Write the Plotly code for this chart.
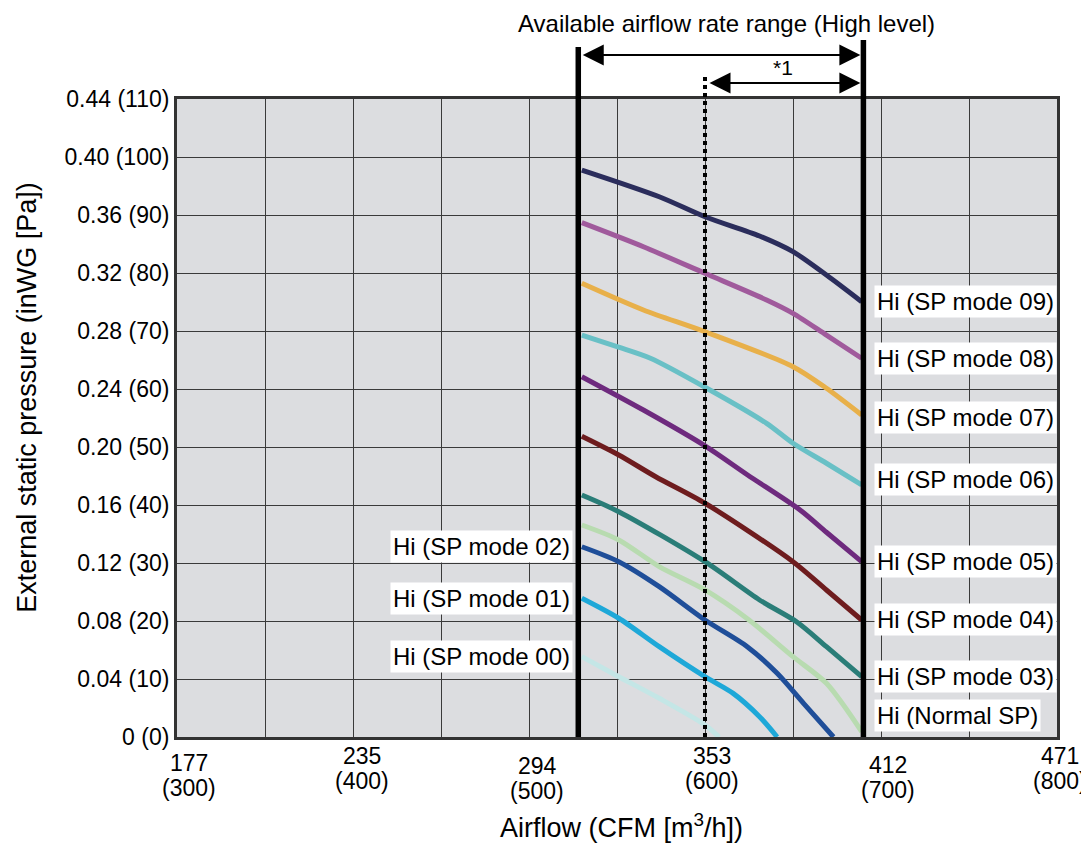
import plotly.graph_objects as go

# ---------------- data ----------------
# airflow in m3/h, pressure in inWG
mode09_x = [530, 574, 600, 631, 650, 669, 689]
mode09_y = [0.391, 0.3726, 0.3588, 0.3455, 0.3347, 0.3186, 0.3002]
mode08_x = [530, 565, 600, 635, 650, 669, 689]
mode08_y = [0.3547, 0.3381, 0.3198, 0.3014, 0.2922, 0.2772, 0.2612]
mode07_x = [530, 565, 600, 650, 669, 689]
mode07_y = [0.3129, 0.2945, 0.2795, 0.2554, 0.2405, 0.2221]
mode06_x = [530, 550, 569, 600, 635, 650, 669, 689]
mode06_y = [0.2772, 0.2692, 0.2612, 0.2412, 0.2163, 0.2026, 0.1888, 0.1738]
mode05_x = [530, 565, 600, 624, 654, 669, 689]
mode05_y = [0.2485, 0.2255, 0.2008, 0.1809, 0.1566, 0.1412, 0.1209]
mode04_x = [530, 551, 572, 600, 650, 669, 689]
mode04_y = [0.2074, 0.1945, 0.1795, 0.1612, 0.1209, 0.1014, 0.0807]
mode03_x = [530, 551, 600, 631, 652, 669, 689]
mode03_y = [0.1669, 0.1554, 0.1209, 0.0945, 0.0795, 0.0623, 0.0416]
normal_x = [530, 551, 574, 600, 625, 650, 669, 689]
normal_y = [0.1462, 0.1359, 0.1175, 0.1014, 0.0807, 0.0554, 0.037, 0.0037]
mode02_x = [530, 551, 574, 600, 624, 641, 656, 673]
mode02_y = [0.1312, 0.1209, 0.1037, 0.0807, 0.0623, 0.0439, 0.0232, 0.0]
mode01_x = [530, 551, 574, 600, 616, 631, 641]
mode01_y = [0.0957, 0.0819, 0.0623, 0.0416, 0.0301, 0.014, 0.0]
mode00_x = [530, 551, 574, 600, 608]
mode00_y = [0.0554, 0.0416, 0.0267, 0.0083, 0.0]

series_names = ["Hi (SP mode 09)", "Hi (SP mode 08)", "Hi (SP mode 07)", "Hi (SP mode 06)",
                "Hi (SP mode 05)", "Hi (SP mode 04)", "Hi (SP mode 03)", "Hi (Normal SP)",
                "Hi (SP mode 02)", "Hi (SP mode 01)", "Hi (SP mode 00)"]

# axis ticks
x_ticks_m3h = [300, 400, 500, 600, 700, 800]
x_ticks_cfm = ["177", "235", "294", "353", "412", "471"]
y_ticks_inwg = [0, 0.04, 0.08, 0.12, 0.16, 0.20, 0.24, 0.28, 0.32, 0.36, 0.40, 0.44]
y_ticks_pa = [0, 10, 20, 30, 40, 50, 60, 70, 80, 90, 100, 110]

# available airflow range (m3/h)
range_low = 528
range_high = 690
range_mid = 600

# ---------------- styles ----------------
FONT = "Liberation Sans, Arial, Helvetica, sans-serif"
colors = ["#2b2d5c", "#a05a9c", "#e8b04a", "#69c0c6", "#6e2a7e", "#6e1c1e",
          "#2a7d78", "#b8dbb0", "#1f4e99", "#1ea8d8", "#c4e6e6"]
series = [(mode09_x, mode09_y), (mode08_x, mode08_y), (mode07_x, mode07_y),
          (mode06_x, mode06_y), (mode05_x, mode05_y), (mode04_x, mode04_y),
          (mode03_x, mode03_y), (normal_x, normal_y), (mode02_x, mode02_y),
          (mode01_x, mode01_y), (mode00_x, mode00_y)]
label_side = ["r", "r", "r", "r", "r", "r", "r", "r", "l", "l", "l"]
label_yshift = [0, 0, -3, 5, 0, 0, 0, 16, 0, 0, 0]
x_lbl_xshift = [12, 9, 8, 7, 7, 3]
x_lbl_top = [26, 19, 29, 19, 28, 19]   # px below plot bottom, centre of first line
LINE_GAP = 25

fig = go.Figure()

for (xs, ys), c, n in zip(series, colors, series_names):
    fig.add_trace(go.Scatter(x=xs, y=ys, mode="lines", name=n,
                             line=dict(color=c, width=5, shape="spline", smoothing=0.8),
                             showlegend=False, hoverinfo="skip"))

annotations = []
# curve labels
for (xs, ys), n, side, ysh in zip(series, series_names, label_side, label_yshift):
    if side == "r":
        annotations.append(dict(x=range_high, y=ys[-1], xref="x", yref="y", text=n,
                                showarrow=False, xanchor="left", yanchor="middle",
                                xshift=11, yshift=ysh, bgcolor="white", borderpad=2,
                                font=dict(family=FONT, size=24, color="black")))
    else:
        annotations.append(dict(x=range_low, y=ys[0], xref="x", yref="y", text=n,
                                showarrow=False, xanchor="right", yanchor="middle",
                                xshift=-5, yshift=ysh, bgcolor="white", borderpad=2,
                                font=dict(family=FONT, size=24, color="black")))

# x tick labels (two lines, staggered)
for xv, cfm, xs_, top in zip(x_ticks_m3h, x_ticks_cfm, x_lbl_xshift, x_lbl_top):
    annotations.append(dict(x=xv, y=0, xref="x", yref="paper", text=cfm,
                            showarrow=False, xanchor="center", yanchor="middle",
                            xshift=xs_, yshift=-top,
                            font=dict(family=FONT, size=23, color="black")))
    annotations.append(dict(x=xv, y=0, xref="x", yref="paper", text=f"({xv})",
                            showarrow=False, xanchor="center", yanchor="middle",
                            xshift=xs_, yshift=-(top + LINE_GAP),
                            font=dict(family=FONT, size=23, color="black")))

# axis titles
annotations.append(dict(x=0.505, y=-0.1395, xref="paper", yref="paper",
                        text="Airflow (CFM [m<sup>3</sup>/h])", showarrow=False,
                        xanchor="center", yanchor="middle",
                        font=dict(family=FONT, size=27, color="black")))
annotations.append(dict(x=-0.1706, y=0.533, xref="paper", yref="paper",
                        text="External static pressure (inWG [Pa])", showarrow=False,
                        textangle=-90, xanchor="center", yanchor="middle",
                        font=dict(family=FONT, size=27, color="black")))
# top title
annotations.append(dict(x=0.624, y=1.1176, xref="paper", yref="paper",
                        text="Available airflow rate range (High level)", showarrow=False,
                        xanchor="center", yanchor="middle",
                        font=dict(family=FONT, size=24, color="black")))
annotations.append(dict(x=0.689, y=1.0486, xref="paper", yref="paper",
                        text="*1", showarrow=False, xanchor="center", yanchor="middle",
                        font=dict(family=FONT, size=21, color="black")))
# arrows
annotations.append(dict(x=range_high, y=1.069, xref="x", yref="paper",
                        ax=range_low, ay=0, axref="x", ayref="pixel", text="",
                        showarrow=True, arrowside="end+start", arrowhead=2, arrowsize=2.1,
                        arrowwidth=2, arrowcolor="black", standoff=3, startstandoff=3))
annotations.append(dict(x=range_high, y=1.025, xref="x", yref="paper",
                        ax=range_mid, ay=0, axref="x", ayref="pixel", text="",
                        showarrow=True, arrowside="end+start", arrowhead=2, arrowsize=2.1,
                        arrowwidth=2, arrowcolor="black", standoff=3, startstandoff=3))

shapes = [
    dict(type="line", xref="x", yref="paper", x0=range_low, x1=range_low, y0=0, y1=1.0815,
         line=dict(color="black", width=5.5), layer="above"),
    dict(type="line", xref="x", yref="paper", x0=range_high, x1=range_high, y0=0, y1=1.0925,
         line=dict(color="black", width=5.5), layer="above"),
    dict(type="line", xref="x", yref="paper", x0=range_mid, x1=range_mid, y0=0, y1=1.0345,
         line=dict(color="black", width=4, dash="dot"), layer="above"),
]

# figure is shifted by the page's 8px body margin, so it is sized 8px smaller
fig.update_layout(
    width=1081, height=846,
    margin=dict(l=169, r=32, t=91, b=117),
    paper_bgcolor="white", plot_bgcolor="#dcdde0",
    font=dict(family=FONT, size=20, color="black"),
    annotations=annotations, shapes=shapes,
    xaxis=dict(range=[300, 800], dtick=50, tick0=300, showgrid=True, gridcolor="#3a3a3a",
               gridwidth=1.4, showticklabels=False, ticks="", zeroline=False,
               showline=True, linecolor="#333", linewidth=3, mirror=True, fixedrange=True),
    yaxis=dict(range=[0, 0.44], tickvals=y_ticks_inwg,
               ticktext=[f"{v:.2f} ({p})" if v > 0 else "0 (0)" for v, p in zip(y_ticks_inwg, y_ticks_pa)],
               showgrid=True, gridcolor="#3a3a3a", gridwidth=1.4, ticks="", zeroline=False,
               showline=True, linecolor="#333", linewidth=3, mirror=True,
               tickfont=dict(family=FONT, size=23, color="black"), fixedrange=True),
)

fig.write_html("out.html")
